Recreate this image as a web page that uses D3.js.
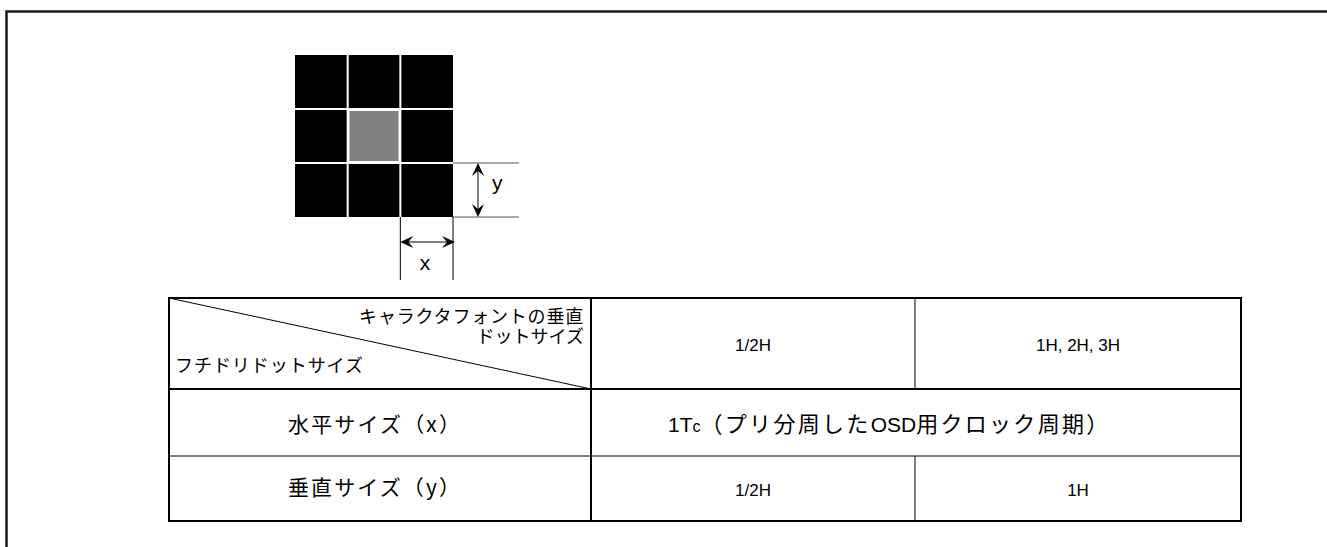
<!DOCTYPE html>
<html><head><meta charset="utf-8">
<script src="https://cdn.jsdelivr.net/npm/d3@7"></script>
<style>
body{margin:0;background:#fff;}
svg{display:block;}
text{font-family:"Liberation Sans","Noto Sans CJK JP",Arial,sans-serif;fill:#000;}
.jp{font-family:"Noto Sans CJK JP","Liberation Sans",sans-serif;}
</style></head>
<body>
<script>
// ---- data ----
const gridRows = [0, 1, 2];
const gridCols = [0, 1, 2];
const gridFill = [
  ["#000", "#000", "#000"],
  ["#000", "#808080", "#000"],
  ["#000", "#000", "#000"]
];
const dimLabels = ["x", "y"];
const headerTopRight = ["キャラクタフォントの垂直", "ドットサイズ"];
const headerBottomLeft = "フチドリドットサイズ";
const columnHeads = ["1/2H", "1H, 2H, 3H"];
const rowHeads = ["水平サイズ（x）", "垂直サイズ（y）"];
const rowHValue = ["1T", "c", "（プリ分周した", "OSD", "用クロック周期）"];
const rowVValues = ["1/2H", "1H"];

const W = 1327, H = 547;
const svg = d3.select("body").append("svg").attr("width", W).attr("height", H);

// frame
svg.append("path").attr("d", `M6.5,${H} V11.5 H${W}`)
  .attr("fill", "none").attr("stroke", "#1a1a1a").attr("stroke-width", 2.5);

// ---- dot grid ----
const gx = d3.scaleLinear().domain([0, 3]).range([295, 453]);
const gy = d3.scaleLinear().domain([0, 3]).range([55, 217]);
const g = svg.append("g");
g.append("rect").attr("x", gx(0)).attr("y", gy(0))
  .attr("width", gx(3) - gx(0)).attr("height", gy(3) - gy(0)).attr("fill", "#000");
gridRows.forEach(r => gridCols.forEach(c => {
  if (gridFill[r][c] !== "#000") {
    g.append("rect").attr("x", gx(c) + 2).attr("y", gy(r) + 2)
      .attr("width", gx(c + 1) - gx(c) - 4).attr("height", gy(r + 1) - gy(r) - 4)
      .attr("fill", gridFill[r][c]);
  }
}));
[1, 2].forEach(i => {
  g.append("line").attr("x1", gx(i)).attr("x2", gx(i)).attr("y1", gy(0)).attr("y2", gy(3))
    .attr("stroke", "#fff").attr("stroke-width", 2);
  g.append("line").attr("y1", gy(i)).attr("y2", gy(i)).attr("x1", gx(0)).attr("x2", gx(3))
    .attr("stroke", "#fff").attr("stroke-width", 2);
});
gridRows.forEach(r => gridCols.forEach(c => {
  if (gridFill[r][c] !== "#000") {
    g.append("rect").attr("x", gx(c) + 1).attr("y", gy(r) + 1)
      .attr("width", gx(c + 1) - gx(c) - 2).attr("height", gy(r + 1) - gy(r) - 2)
      .attr("fill", "none").attr("stroke", "#fff").attr("stroke-width", 2);
  }
}));

// dimension lines
[2, 3].forEach(i => {
  svg.append("line").attr("x1", gx(3)).attr("x2", 519).attr("y1", gy(i)).attr("y2", gy(i))
    .attr("stroke", "#555").attr("stroke-width", 1);
});
[2, 3].forEach(i => {
  svg.append("line").attr("x1", gx(i)).attr("x2", gx(i)).attr("y1", gy(3)).attr("y2", 280)
    .attr("stroke", "#000").attr("stroke-width", 1);
});
function arrowHead(x, y, dir) {
  const L = 13, w = 6, n = 5;
  let pts;
  if (dir === "up") pts = [[x, y], [x - w, y + L], [x, y + L - n], [x + w, y + L]];
  if (dir === "down") pts = [[x, y], [x - w, y - L], [x, y - L + n], [x + w, y - L]];
  if (dir === "left") pts = [[x, y], [x + L, y - w], [x + L - n, y], [x + L, y + w]];
  if (dir === "right") pts = [[x, y], [x - L, y - w], [x - L + n, y], [x - L, y + w]];
  svg.append("path").attr("d", d3.line()(pts) + "Z").attr("fill", "#000");
}
const ay = 478;
svg.append("line").attr("x1", ay).attr("x2", ay).attr("y1", gy(2) + 4).attr("y2", gy(3) - 4)
  .attr("stroke", "#555").attr("stroke-width", 1.5);
arrowHead(ay, gy(2), "up");
arrowHead(ay, gy(3), "down");
svg.append("text").attr("x", 492).attr("y", 190).attr("font-size", 21).text(dimLabels[1]);

const ax = 242;
svg.append("line").attr("x1", gx(2) + 4).attr("x2", gx(3) - 4).attr("y1", ax).attr("y2", ax)
  .attr("stroke", "#555").attr("stroke-width", 1.5);
arrowHead(gx(2), ax, "left");
arrowHead(gx(3) + 2, ax, "right");
svg.append("text").attr("x", 425).attr("y", 270).attr("text-anchor", "middle")
  .attr("font-size", 21).text(dimLabels[0]);

// ---- table ----
const colX = [169, 591, 915, 1241];
const rowY = [298, 389, 456, 521];
const t = svg.append("g");
t.append("line").attr("x1", colX[0]).attr("x2", colX[3]).attr("y1", rowY[2]).attr("y2", rowY[2])
  .attr("stroke", "#000").attr("stroke-width", 1);
t.append("line").attr("x1", colX[2]).attr("x2", colX[2]).attr("y1", rowY[0]).attr("y2", rowY[1])
  .attr("stroke", "#000").attr("stroke-width", 1);
t.append("line").attr("x1", colX[2]).attr("x2", colX[2]).attr("y1", rowY[2]).attr("y2", rowY[3])
  .attr("stroke", "#000").attr("stroke-width", 1);
t.append("line").attr("x1", colX[0]).attr("y1", rowY[0]).attr("x2", colX[1]).attr("y2", rowY[1])
  .attr("stroke", "#000").attr("stroke-width", 1);
t.append("line").attr("x1", colX[0]).attr("x2", colX[3]).attr("y1", rowY[1]).attr("y2", rowY[1])
  .attr("stroke", "#000").attr("stroke-width", 2);
t.append("line").attr("x1", colX[1]).attr("x2", colX[1]).attr("y1", rowY[0]).attr("y2", rowY[3])
  .attr("stroke", "#000").attr("stroke-width", 2);
t.append("rect").attr("x", colX[0]).attr("y", rowY[0])
  .attr("width", colX[3] - colX[0]).attr("height", rowY[3] - rowY[0])
  .attr("fill", "none").attr("stroke", "#000").attr("stroke-width", 2);

// header texts: two-line caption in one text element
const hdr = t.append("text").attr("class", "jp").attr("text-anchor", "end").attr("font-size", 18);
hdr.append("tspan").attr("x", 584).attr("y", 323).attr("letter-spacing", 0.8).text(headerTopRight[0]);
hdr.append("tspan").attr("x", 584).attr("y", 343).text(headerTopRight[1]);
t.append("text").attr("class", "jp").attr("x", 175).attr("y", 372)
  .attr("font-size", 18).attr("textLength", 188).attr("lengthAdjust", "spacing")
  .text(headerBottomLeft);

columnHeads.forEach((s, i) => {
  t.append("text").attr("x", (colX[i + 1] + colX[i + 2]) / 2).attr("y", 351)
    .attr("text-anchor", "middle").attr("font-size", 17).text(s);
});
const rowBase = [432, 495];
rowHeads.forEach((s, i) => {
  t.append("text").attr("class", "jp").attr("x", 288).attr("y", rowBase[i])
    .attr("font-size", 21).attr("textLength", 172).attr("lengthAdjust", "spacing").text(s);
});
// horizontal size value
const hv = t.append("text").attr("x", 668).attr("y", rowBase[0]).attr("font-size", 21);
hv.append("tspan").text(rowHValue[0]);
hv.append("tspan").attr("font-size", 16).text(rowHValue[1]);
hv.append("tspan").attr("class", "jp").attr("font-size", 22).attr("letter-spacing", 2.3).text(rowHValue[2]);
hv.append("tspan").text(rowHValue[3]);
hv.append("tspan").attr("class", "jp").attr("font-size", 22).attr("letter-spacing", 2.3).text(rowHValue[4]);

rowVValues.forEach((s, i) => {
  t.append("text").attr("x", (colX[i + 1] + colX[i + 2]) / 2).attr("y", 496)
    .attr("text-anchor", "middle").attr("font-size", 17).text(s);
});
</script>
</body></html>
